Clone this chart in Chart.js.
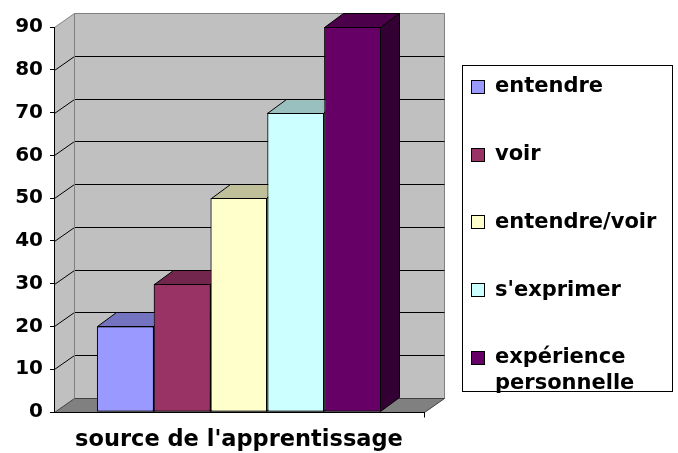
<!DOCTYPE html>
<html>
<head>
<meta charset="utf-8">
<script src="https://cdn.jsdelivr.net/npm/chart.js@4"></script>
<style>
  html, body { margin: 0; padding: 0; background: #fff; }
  #chart { display: block; }
</style>
</head>
<body>
<canvas id="chart" width="678" height="453"></canvas>
<script>
  // data
  const categories = [''];
  const seriesNames = ['entendre', 'voir', 'entendre/voir', "s'exprimer", 'expérience personnelle'];
  const seriesValues = [20, 30, 50, 70, 90];
  const yTicks = [0, 10, 20, 30, 40, 50, 60, 70, 80, 90];
  const axisTitle = "source de l'apprentissage";

  // styles
  const faceColors = ['#9999ff', '#993366', '#ffffcc', '#ccffff', '#660066'];
  const topColors = ['#7373bf', '#73264d', '#bfbf99', '#99bfbf', '#4c004c'];
  const sideColors = ['#4d4d80', '#4d1a33', '#808066', '#668080', '#330033'];
  const FONT = '"DejaVu Sans", sans-serif';
  const WALL_DX = 20, WALL_DY = 14;
  const BAR_DX = 19, BAR_DY = 14;

  function poly(ctx, pts, fill, stroke) {
    ctx.beginPath();
    ctx.moveTo(pts[0][0], pts[0][1]);
    for (let i = 1; i < pts.length; i++) ctx.lineTo(pts[i][0], pts[i][1]);
    ctx.closePath();
    if (fill) { ctx.fillStyle = fill; ctx.fill(); }
    if (stroke) { ctx.strokeStyle = stroke; ctx.lineWidth = 1; ctx.stroke(); }
  }

  function line(ctx, pts, color) {
    ctx.beginPath();
    ctx.moveTo(pts[0][0], pts[0][1]);
    for (let i = 1; i < pts.length; i++) ctx.lineTo(pts[i][0], pts[i][1]);
    ctx.strokeStyle = color;
    ctx.lineWidth = 1;
    ctx.stroke();
  }

  // side wall, back wall, floor and the back grid
  const walls = {
    id: 'walls',
    beforeDraw(chart) {
      const ctx = chart.ctx;
      const { left, right, top, bottom } = chart.chartArea;
      const y = chart.scales.y;
      ctx.save();
      ctx.translate(0.5, 0.5);
      const L = Math.round(left), R = Math.round(right), T = Math.round(top), B = Math.round(bottom);
      poly(ctx, [[L, T], [L + WALL_DX, T - WALL_DY], [L + WALL_DX, B - WALL_DY], [L, B]], '#c0c0c0');
      poly(ctx, [[L + WALL_DX, T - WALL_DY], [R + WALL_DX, T - WALL_DY], [R + WALL_DX, B - WALL_DY], [L + WALL_DX, B - WALL_DY]], '#c0c0c0', '#808080');
      poly(ctx, [[L, B], [R, B], [R + WALL_DX, B - WALL_DY], [L + WALL_DX, B - WALL_DY]], '#808080', '#404040');
      yTicks.forEach(v => {
        if (v === 0) return;
        const py = Math.round(y.getPixelForValue(v));
        const last = v === yTicks[yTicks.length - 1];
        line(ctx, [[L, py], [L + WALL_DX, py - WALL_DY], [R + WALL_DX, py - WALL_DY]], last ? '#808080' : '#000');
      });
      line(ctx, [[L + WALL_DX, T - WALL_DY], [L + WALL_DX, B - WALL_DY]], '#808080');
      line(ctx, [[R, B], [R, B + 5]], '#000');
      ctx.restore();
    }
  };

  // redraw bars left to right with their top and side faces so that
  // each bar's front hides the overhang of the bar before it
  const bars3d = {
    id: 'bars3d',
    afterDatasetsDraw(chart) {
      const ctx = chart.ctx;
      ctx.save();
      seriesNames.forEach((name, i) => {
        const el = chart.getDatasetMeta(i).data[0];
        el.draw(ctx);
        const { x, y, base, width } = el.getProps(['x', 'y', 'base', 'width'], true);
        const l = Math.round(x - width / 2) + 0.5, r = Math.round(x + width / 2) - 0.5;
        const t = Math.round(y) + 0.5, b = Math.round(base) - 0.5;
        poly(ctx, [[l, t], [r, t], [r + BAR_DX, t - BAR_DY], [l + BAR_DX, t - BAR_DY]], topColors[i], '#000');
        poly(ctx, [[r, t], [r + BAR_DX, t - BAR_DY], [r + BAR_DX, b - BAR_DY], [r, b]], sideColors[i], '#000');
      });
      ctx.restore();
    }
  };

  // boxed legend on the right
  const boxLegend = {
    id: 'boxLegend',
    afterDraw(chart) {
      const ctx = chart.ctx;
      const bx = 462, by = 65, bw = 210, bh = 326;
      ctx.save();
      ctx.fillStyle = '#fff';
      ctx.fillRect(bx, by, bw, bh);
      ctx.strokeStyle = '#000';
      ctx.lineWidth = 1;
      ctx.strokeRect(bx + 0.5, by + 0.5, bw, bh);
      ctx.font = 'bold 21px ' + FONT;
      ctx.textBaseline = 'middle';
      ctx.textAlign = 'left';
      seriesNames.forEach((name, i) => {
        const cy = 87 + i * 67.7;
        ctx.fillStyle = faceColors[i];
        ctx.fillRect(471, Math.round(cy - 7), 14, 14);
        ctx.strokeStyle = '#000';
        ctx.strokeRect(471.5, Math.round(cy - 7) + 0.5, 13, 13);
        ctx.fillStyle = '#000';
        let lines = [name];
        if (ctx.measureText(name).width > bw - 40) lines = name.split(' ');
        lines.forEach((txt, k) => ctx.fillText(txt, 495, cy + k * 26));
      });
      ctx.restore();
    }
  };

  const datasets = seriesNames.map((name, i) => ({
    label: name,
    data: [seriesValues[i]],
    backgroundColor: faceColors[i],
    borderColor: '#000',
    borderWidth: 1,
    borderSkipped: false
  }));

  new Chart(document.getElementById('chart'), {
    type: 'bar',
    data: { labels: categories, datasets },
    plugins: [walls, bars3d, boxLegend],
    options: {
      responsive: false,
      animation: false,
      events: [],
      layout: { padding: { left: 0, right: 254, top: 27, bottom: 0 } },
      datasets: { bar: { categoryPercentage: 0.768, barPercentage: 1 } },
      plugins: { legend: { display: false }, tooltip: { enabled: false } },
      scales: {
        x: {
          grid: { display: false },
          border: { display: true, color: '#000', width: 1 },
          ticks: { display: false },
          title: {
            display: true,
            text: axisTitle,
            color: '#000',
            font: { family: FONT, size: 22.5, weight: 'bold' },
            padding: { top: 0, bottom: -1 }
          },
          afterFit(scale) { scale.height = 41; }
        },
        y: {
          min: yTicks[0],
          max: yTicks[yTicks.length - 1],
          afterBuildTicks(scale) { scale.ticks = yTicks.map(v => ({ value: v })); },
          grid: { display: true, drawOnChartArea: false, drawTicks: true, tickLength: 4, color: '#000' },
          border: { display: true, color: '#000', width: 1 },
          ticks: {
            color: '#000',
            padding: 7,
            font: { family: FONT, size: 20, weight: 'bold' }
          },
          afterFit(scale) { scale.width = 54; }
        }
      }
    }
  });
</script>
</body>
</html>
